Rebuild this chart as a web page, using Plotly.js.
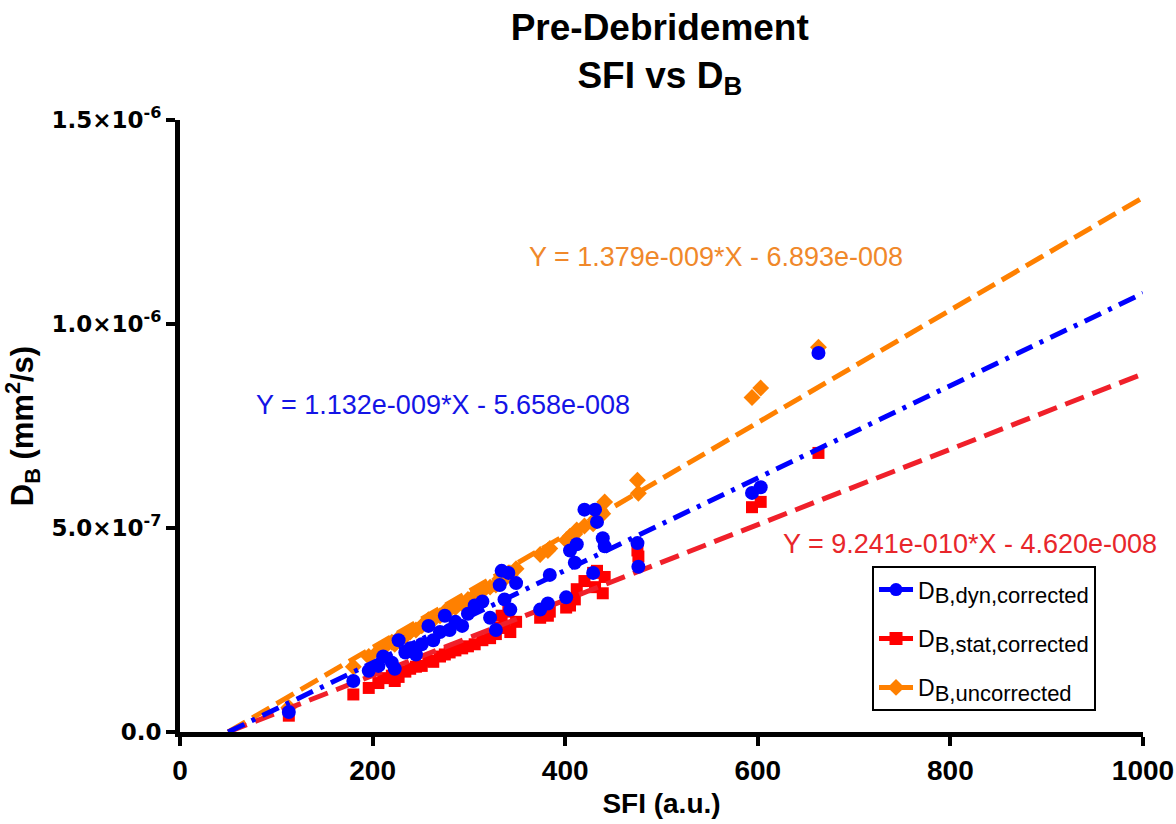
<!DOCTYPE html>
<html>
<head>
<meta charset="utf-8">
<script src="https://cdn.plot.ly/plotly-3.0.1.min.js"></script>
<style>
html,body{margin:0;padding:0;background:#fff;}
#chart{width:1176px;height:824px;}
</style>
</head>
<body>
<div id="chart"></div>
<script>
// ---- data ----
const sfi = [113,180,196,206,211,220,223,227,234,239,245,251,258,263,270,275,280,286,293,299,306,314,322,328,332,334,337,341,343,349,374,382,384,401,405,410,412,420,429,431,433,439,441,475,476,594,603,663];
const dbDyn = [0.49e-7,1.25e-7,1.50e-7,1.62e-7,1.85e-7,1.70e-7,1.55e-7,2.25e-7,1.95e-7,2.05e-7,1.90e-7,2.15e-7,2.60e-7,2.25e-7,2.45e-7,2.85e-7,2.50e-7,2.70e-7,2.60e-7,2.90e-7,3.10e-7,3.20e-7,2.80e-7,2.50e-7,3.60e-7,3.95e-7,3.25e-7,3.90e-7,3.00e-7,3.65e-7,3.00e-7,3.15e-7,3.85e-7,3.30e-7,4.45e-7,4.15e-7,4.60e-7,5.45e-7,3.90e-7,5.45e-7,5.15e-7,4.75e-7,4.55e-7,4.63e-7,4.05e-7,5.86e-7,6.00e-7,9.29e-7];
const dbStat = [0.40e-7,0.92e-7,1.08e-7,1.20e-7,1.32e-7,1.38e-7,1.25e-7,1.35e-7,1.48e-7,1.55e-7,1.60e-7,1.62e-7,1.75e-7,1.72e-7,1.85e-7,1.90e-7,1.95e-7,2.00e-7,2.05e-7,2.10e-7,2.15e-7,2.25e-7,2.30e-7,2.40e-7,2.55e-7,2.85e-7,2.60e-7,2.95e-7,2.45e-7,2.70e-7,2.80e-7,2.85e-7,2.95e-7,3.05e-7,3.10e-7,3.25e-7,3.50e-7,3.70e-7,3.90e-7,3.55e-7,3.95e-7,3.40e-7,3.80e-7,4.45e-7,4.30e-7,5.51e-7,5.64e-7,6.84e-7];
const dbUncorr = [0.60e-7,1.60e-7,1.85e-7,1.98e-7,2.05e-7,2.20e-7,2.15e-7,2.30e-7,2.35e-7,2.45e-7,2.50e-7,2.60e-7,2.75e-7,2.75e-7,2.85e-7,2.95e-7,3.00e-7,3.05e-7,3.15e-7,3.25e-7,3.35e-7,3.45e-7,3.55e-7,3.60e-7,3.75e-7,3.80e-7,3.75e-7,3.90e-7,3.85e-7,4.00e-7,4.35e-7,4.45e-7,4.50e-7,4.70e-7,4.80e-7,4.85e-7,4.95e-7,5.05e-7,5.10e-7,5.20e-7,5.25e-7,5.35e-7,5.64e-7,6.17e-7,5.85e-7,8.20e-7,8.43e-7,9.43e-7];

// linear fits: [dyn, stat, uncorrected]
const fitSlopes = [1.132e-9, 9.241e-10, 1.379e-9];
const fitIntercepts = [-5.658e-8, -4.620e-8, -6.893e-8];
const fitXEnd = 1000;
const fitLabels = ["Y = 1.132e-009*X - 5.658e-008", "Y = 9.241e-010*X - 4.620e-008", "Y = 1.379e-009*X - 6.893e-008"];

const seriesNames = ["D<sub><span style=\"font-size:22px\">B,dyn,corrected</span></sub>",
                     "D<sub><span style=\"font-size:22px\">B,stat,corrected</span></sub>",
                     "D<sub><span style=\"font-size:22px\">B,uncorrected</span></sub>"];

const xTickVals = [0,200,400,600,800,1000];
const yTickVals = [0, 5e-7, 1e-6, 1.5e-6];
const yTickText = ["0.0","5.0×10<sup>-7</sup>","1.0×10<sup>-6</sup>","1.5×10<sup>-6</sup>"];

// ---- styles ----
const colBlue = "#0000FF", colRed = "#FF0000", colOrange = "#FF8000";
const ARIAL = "Liberation Sans, Arial, sans-serif";

function fitLine(i){
  const x0 = -fitIntercepts[i]/fitSlopes[i];
  const xs = [x0, fitXEnd];
  return {x: xs, y: xs.map(v => fitSlopes[i]*v + fitIntercepts[i])};
}

const traces = [];
traces.push({x: sfi, y: dbUncorr, type:"scatter", mode:"markers", showlegend:false,
  marker:{symbol:"diamond", size:13, color:colOrange}});
traces.push({x: sfi, y: dbStat, type:"scatter", mode:"markers", showlegend:false,
  marker:{symbol:"square", size:12, color:colRed}});
const fOr = fitLine(2), fRd = fitLine(1), fBl = fitLine(0);
traces.push({x:fOr.x, y:fOr.y, type:"scatter", mode:"lines", showlegend:false,
  line:{color:colOrange, width:5, dash:"20px,8px"}});
traces.push({x:fRd.x, y:fRd.y, type:"scatter", mode:"lines", showlegend:false,
  line:{color:"#F0202A", width:5, dash:"20px,9px"}});
traces.push({x: sfi, y: dbDyn, type:"scatter", mode:"markers", showlegend:false,
  marker:{symbol:"circle", size:14, color:colBlue}});
traces.push({x:fBl.x, y:fBl.y, type:"scatter", mode:"lines", showlegend:false,
  line:{color:colBlue, width:5, dash:"18px,8px,4px,8px"}});

const legCols = [colBlue, colRed, colOrange];
const legSyms = ["circle","square","diamond"];
for (let i=0;i<3;i++){
  traces.push({x:[null], y:[null], type:"scatter", mode:"lines+markers", name: seriesNames[i],
    legendgroup:"g"+i, line:{color:legCols[i], width:5}, marker:{symbol:legSyms[i], size:13, color:legCols[i]}});
}

const layout = {
  width:1176, height:824,
  paper_bgcolor:"#fff", plot_bgcolor:"#fff",
  margin:{l:180, r:33, t:120, b:92},
  title:{text:"<b>Pre-Debridement<br>SFI vs D<sub>B</sub></b>", x:0.561, xanchor:"center", y:0.952, yanchor:"top",
    font:{family:ARIAL, size:37, color:"#000"}},
  xaxis:{range:[0,1000], tickvals:xTickVals, showgrid:false, zeroline:false, ticklabeloverflow:"allow",
    showline:true, linecolor:"#000", linewidth:5, ticks:"outside", ticklen:9, tickwidth:4, tickcolor:"#000",
    tickfont:{family:ARIAL, size:28, color:"#000", weight:"bold"},
    title:{text:"<b>SFI (a.u.)</b>", font:{family:ARIAL, size:28, color:"#000"}, standoff:10}},
  yaxis:{range:[0,1.5e-6], tickvals:yTickVals, ticktext:yTickText, showgrid:false, zeroline:false, ticklabeloverflow:"allow",
    showline:true, linecolor:"#000", linewidth:5, ticks:"outside", ticklen:9, tickwidth:4, tickcolor:"#000",
    tickfont:{family:"DejaVu Sans, sans-serif", size:23, color:"#000", weight:"bold"},
    title:{text:"<b>D<sub>B</sub> (mm<sup>2</sup>/s)</b>", font:{family:ARIAL, size:31, color:"#000"}, standoff:18}},
  legend:{x:0.7186, y:0.271, xanchor:"left", yanchor:"top", bgcolor:"#fff", bordercolor:"#000", borderwidth:2,
    font:{family:ARIAL, size:23, color:"#000"}, traceorder:"grouped", tracegroupgap:16, itemwidth:34},
  annotations:[
    {x:557, y:1.164e-6, xref:"x", yref:"y", text:fitLabels[2], showarrow:false,
      font:{family:ARIAL, size:27, color:"#F0882A"}},
    {x:273, y:8.01e-7, xref:"x", yref:"y", text:fitLabels[0], showarrow:false,
      font:{family:ARIAL, size:27, color:"#1414E6"}},
    {x:820, y:4.61e-7, xref:"x", yref:"y", text:fitLabels[1], showarrow:false,
      font:{family:ARIAL, size:27, color:"#E8262B"}}
  ]
};

Plotly.newPlot("chart", traces, layout, {displayModeBar:false, staticPlot:true});
</script>
</body>
</html>
